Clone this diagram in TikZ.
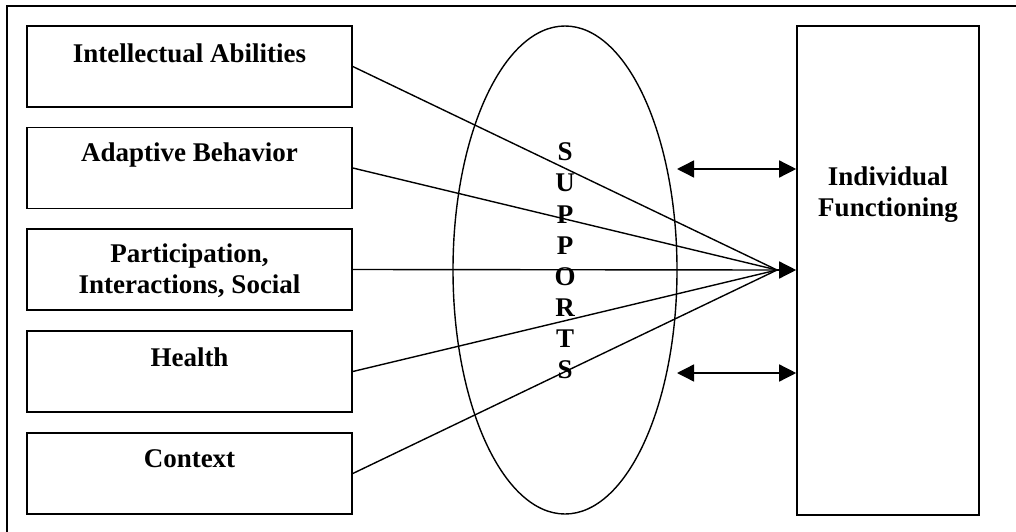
\documentclass[tikz,border=0pt]{standalone}
\usepackage{fontspec}
\setmainfont{Liberation Serif}
\usetikzlibrary{shapes.geometric,arrows.meta}
\begin{document}
\begin{tikzpicture}[x=1pt,y=-1pt,
  frame/.style={line width=1.6pt},
  box/.style={draw,line width=1.6pt,minimum width=325pt,minimum height=81pt,inner sep=0pt},
  bigbox/.style={draw,line width=1.6pt,minimum width=182pt,minimum height=489pt,inner sep=0pt},
  lbl/.style={font=\fontsize{27}{31}\selectfont\bfseries,align=center,inner sep=0pt},
  letter/.style={font=\fontsize{27}{31}\selectfont\bfseries,inner sep=0pt},
  oval/.style={draw,ellipse,line width=1.4pt,minimum width=224pt,minimum height=488pt,inner sep=0pt},
  conn/.style={line width=1.4pt},
  tipr/.style={conn,-{Triangle[length=17pt,width=17pt]}},
  tipb/.style={conn,{Triangle[length=17pt,width=17pt]}-{Triangle[length=17pt,width=17pt]}}]
\useasboundingbox (0,0) rectangle (1016,532);
% outer frame (clipped at right and bottom)
\draw[frame] (7,532) -- (7,6) -- (1016,6);
% left boxes
\node[box] (b1) at (189.5,66.5) {};
\node[box] (b2) at (189.5,168) {};
\node[box] (b3) at (189.5,269.5) {};
\node[box] (b4) at (189.5,371.5) {};
\node[box] (b5) at (189.5,473.5) {};
\node[lbl] (t1) at (189.5,53) {Intellectual Abilities};
\node[lbl] (t2) at (189.5,155) {Adaptive Behavior};
\node[lbl] (t3) at (189.5,270.5) {Participation,\\Interactions, Social};
\node[lbl] (t4) at (189.5,357) {Health};
\node[lbl] (t5) at (189.5,459) {Context};
% ellipse
\node[oval] (e) at (565,270) {};
\foreach \l [count=\i from 0] in {S,U,P,P,O,R,T,S}
  \node[letter] (s\i) at (565,152+31.1*\i) {\l};
% right box
\node[bigbox] (f) at (888,270.5) {};
\node[lbl] (tf) at (888,195) {Individual\\Functioning};
% connectors
\coordinate (c) at (777,270);
\foreach \b in {b1,b2,b3,b4,b5}
  \draw[conn] (\b.east) -- (c);
\draw[tipr] (c) -- (f.west |- c);
\coordinate (a1) at (677,169);
\coordinate (a2) at (677,373);
\draw[tipb] (a1) -- (f.west |- a1);
\draw[tipb] (a2) -- (f.west |- a2);
\end{tikzpicture}
\end{document}
